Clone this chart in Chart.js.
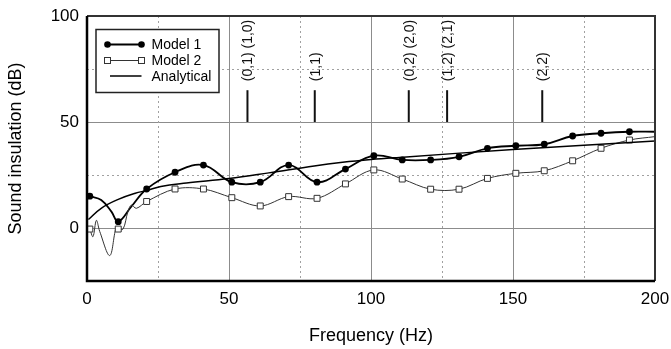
<!DOCTYPE html>
<html>
<head>
<meta charset="utf-8">
<script src="https://cdn.jsdelivr.net/npm/chart.js@4.4.0/dist/chart.umd.min.js"></script>
<style>
  html, body { margin: 0; padding: 0; background: #fff; }
  #wrap { width: 671px; height: 349px; }
</style>
</head>
<body>
<div id="wrap"><canvas id="insulationChart"></canvas></div>
<script>
// values (Hz / dB)
const markerFreq = [1, 11, 21, 31, 41, 51, 61, 71, 81, 91, 101, 111, 121, 131, 141, 151, 161, 171, 181, 191]

const model1Freq = [1, 5, 8.6, 11, 15.5, 21, 31, 41, 51, 61, 71, 81, 91, 101, 111, 121, 131, 141, 151, 161, 171, 181, 191, 200]
const model1Db = [15, 13.2, 7.7, 3, 9.9, 18.4, 26.3, 29.7, 21.6, 21.6, 29.7, 21.6, 27.8, 34.1, 32.1, 32.1, 33.6, 37.6, 38.8, 39.5, 43.4, 44.7, 45.4, 45.4]

const model2Freq = [1, 2.1, 3.3, 4.5, 8, 10.2, 11, 12.7, 14.4, 15.6, 17.4, 21, 31, 41, 51, 61, 71, 81, 91, 101, 111, 121, 131, 141, 151, 161, 171, 181, 191, 200]
const model2Db = [-0.5, -4.1, 3.6, -1.7, -13, 0, -0.5, -0.5, 7.7, 10.8, 9.3, 12.5, 18.4, 18.4, 14.3, 10.4, 14.8, 14.0, 20.8, 27.4, 23.1, 18.3, 18.3, 23.4, 25.8, 27.0, 31.7, 37.6, 41.5, 43.1]

const analyticFreq = [0.5, 5, 11, 17, 21, 26, 35, 50, 64, 80, 90, 100, 110, 150, 200]
const analyticDb = [4, 9.3, 13.5, 16.4, 17.7, 19.6, 21.2, 23.3, 26, 29.3, 31, 32.3, 33.3, 37, 41]

// plate mode frequencies and their labels
const modeFreq = [56.5, 80.2, 113.3, 126.8, 160.3]
const modeLabels = ['(0,1) (1,0)', '(1,1)', '(0,2) (2,0)', '(1,2) (2,1)', '(2,2)']
const modeFrom = 50
const modeTo = 65

const FONT = "'Liberation Sans', Arial, sans-serif"

function pts(xs, ys) {
  return xs.map((v, i) => ({ x: v, y: ys[i] }))
}
function markerSize(r) {
  return ctx => markerFreq.includes(ctx.raw && ctx.raw.x) ? r : 0
}

const decor = {
  id: 'decor',
  beforeDatasetsDraw(chart) {
    const { ctx, chartArea: a, scales: { x, y } } = chart
    ctx.save()
    ctx.strokeStyle = '#a0a0a0'
    ctx.lineWidth = 1
    ctx.setLineDash([2, 3])
    x.ticks.forEach(t => {
      if (t.value % 50 === 0) return
      const px = Math.round(x.getPixelForValue(t.value)) + 0.5
      ctx.beginPath(); ctx.moveTo(px, a.top); ctx.lineTo(px, a.bottom); ctx.stroke()
    })
    y.ticks.forEach(t => {
      if (t.value % 50 === 0) return
      const py = Math.round(y.getPixelForValue(t.value)) + 0.5
      ctx.beginPath(); ctx.moveTo(a.left, py); ctx.lineTo(a.right, py); ctx.stroke()
    })
    ctx.restore()
  },
  afterDatasetsDraw(chart) {
    const { ctx, chartArea: a, scales: { x, y } } = chart
    ctx.save()
    // mode lines + rotated labels
    ctx.strokeStyle = '#111'
    ctx.lineWidth = 2
    ctx.fillStyle = '#111'
    ctx.font = '14px ' + FONT
    modeFreq.forEach((f, i) => {
      const px = x.getPixelForValue(f)
      const y0 = y.getPixelForValue(modeFrom)
      const y1 = y.getPixelForValue(modeTo)
      ctx.beginPath(); ctx.moveTo(px, y0); ctx.lineTo(px, y1); ctx.stroke()
      ctx.save()
      ctx.translate(px, y1 - 9)
      ctx.rotate(-Math.PI / 2)
      ctx.textAlign = 'left'
      ctx.textBaseline = 'middle'
      ctx.fillText(modeLabels[i], 0, 1)
      ctx.restore()
    })

    // frame
    ctx.lineWidth = 2
    ctx.strokeStyle = '#333'
    ctx.beginPath(); ctx.moveTo(a.left, a.top); ctx.lineTo(a.right, a.top); ctx.lineTo(a.right, a.bottom); ctx.stroke()
    ctx.lineWidth = 2.5
    ctx.strokeStyle = '#000'
    ctx.beginPath(); ctx.moveTo(a.left, a.top); ctx.lineTo(a.left, a.bottom); ctx.lineTo(a.right, a.bottom); ctx.stroke()

    // legend
    const bx = a.left + 9, by = a.top + 13.5
    ctx.fillStyle = '#fff'
    ctx.fillRect(bx, by, 123, 63)
    ctx.lineWidth = 1.5
    ctx.strokeStyle = '#222'
    ctx.strokeRect(bx, by, 123, 63)
    const rows = [
      { label: 'Model 1', dy: 15, style: 'dot', width: 1.8, color: '#000' },
      { label: 'Model 2', dy: 31, style: 'square', width: 1, color: '#333' },
      { label: 'Analytical', dy: 46.5, style: null, width: 1.5, color: '#000' }
    ]
    rows.forEach(r => {
      const ly = by + r.dy
      const x0 = bx + (r.style ? 11.5 : 14), x1 = bx + 45.5
      ctx.strokeStyle = r.color
      ctx.lineWidth = r.width
      ctx.beginPath(); ctx.moveTo(x0, ly); ctx.lineTo(x1, ly); ctx.stroke()
      ;[x0, x1].forEach(mx => {
        if (r.style === 'dot') {
          ctx.fillStyle = '#000'
          ctx.beginPath(); ctx.arc(mx, ly, 3.3, 0, Math.PI * 2); ctx.fill()
        } else if (r.style === 'square') {
          ctx.fillStyle = '#fff'
          ctx.fillRect(mx - 3, ly - 3, 6, 6)
          ctx.lineWidth = 1
          ctx.strokeRect(mx - 3, ly - 3, 6, 6)
        }
      })
      ctx.fillStyle = '#000'
      ctx.font = '14px ' + FONT
      ctx.textAlign = 'left'
      ctx.textBaseline = 'middle'
      ctx.fillText(r.label, bx + 55.5, ly + 1)
    })
    ctx.restore()
  }
}

const ctx = document.getElementById('insulationChart')
new Chart(ctx, {
  type: 'line',
  data: {
    datasets: [
      {
        label: 'Analytical',
        data: pts(analyticFreq, analyticDb),
        borderColor: '#000',
        borderWidth: 1.5,
        pointRadius: 0,
        tension: 0.4
      },
      {
        label: 'Model 2',
        data: pts(model2Freq, model2Db),
        borderColor: '#333',
        borderWidth: 1,
        tension: 0.35,
        pointStyle: 'rect',
        pointRadius: markerSize(4.2),
        pointBackgroundColor: '#fff',
        pointBorderColor: '#333',
        pointBorderWidth: 1
      },
      {
        label: 'Model 1',
        data: pts(model1Freq, model1Db),
        borderColor: '#000',
        borderWidth: 1.8,
        tension: 0.4,
        pointStyle: 'circle',
        pointRadius: markerSize(3.4),
        pointBackgroundColor: '#000',
        pointBorderColor: '#000',
        pointBorderWidth: 0
      }
    ]
  },
  options: {
    responsive: true,
    maintainAspectRatio: false,
    animation: false,
    layout: { padding: { top: 16, right: 16, left: 0, bottom: 0 } },
    plugins: { legend: { display: false }, tooltip: { enabled: false } },
    scales: {
      x: {
        type: 'linear',
        min: 0,
        max: 200,
        ticks: {
          stepSize: 25,
          padding: 8,
          color: '#000',
          font: { family: FONT, size: 17 },
          maxRotation: 0,
          callback: v => v % 50 === 0 ? v : ''
        },
        grid: {
          drawTicks: false,
          color: c => c.tick && c.tick.value % 50 === 0 ? '#8c8c8c' : 'rgba(0,0,0,0)'
        },
        border: { display: false },
        title: {
          display: true,
          text: 'Frequency (Hz)',
          color: '#000',
          font: { family: FONT, size: 18 },
          padding: { top: 0, bottom: 2 }
        },
        afterFit: s => { s.height = 68; s.paddingLeft = 0; s.paddingRight = 0 }
      },
      y: {
        min: -25,
        max: 100,
        ticks: {
          stepSize: 25,
          padding: 8,
          color: '#000',
          font: { family: FONT, size: 17 },
          callback: v => v % 50 === 0 ? v : ''
        },
        grid: {
          drawTicks: false,
          color: c => c.tick && c.tick.value % 50 === 0 ? '#8c8c8c' : 'rgba(0,0,0,0)'
        },
        border: { display: false },
        title: {
          display: true,
          text: 'Sound insulation (dB)',
          color: '#000',
          font: { family: FONT, size: 18 },
          padding: { top: 5, bottom: 0 }
        },
        afterFit: s => { s.width = 87; s.paddingTop = 0; s.paddingBottom = 0 }
      }
    }
  },
  plugins: [decor]
})
</script>
</body>
</html>
